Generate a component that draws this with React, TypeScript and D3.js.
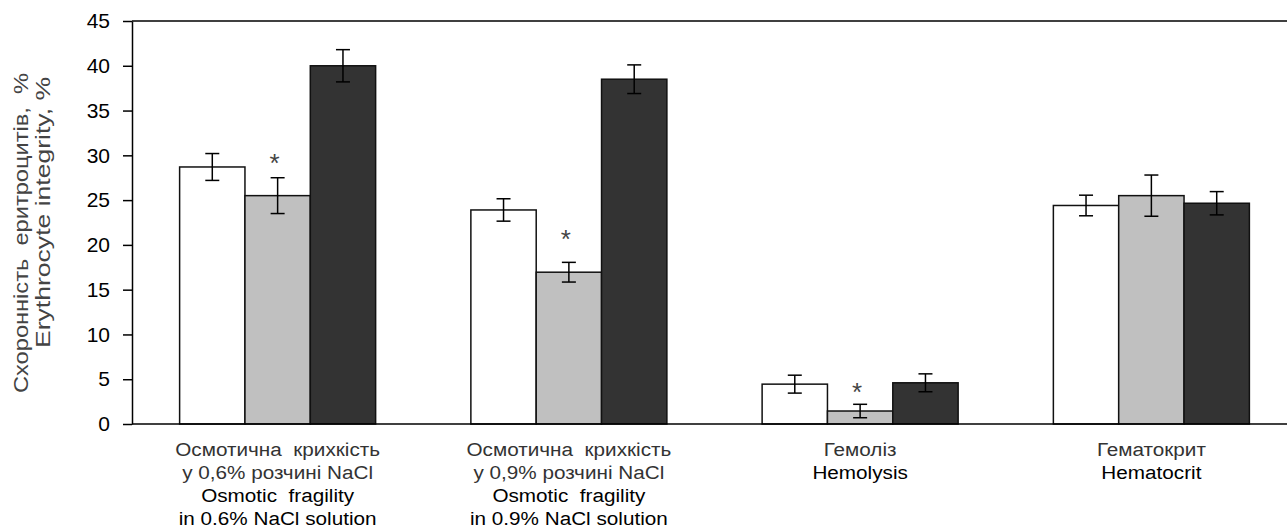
import React, { useEffect, useRef } from 'react';
import * as d3 from 'd3';

// categories (Ukrainian / English lines under each group)
const categories = ['osm06', 'osm09', 'hemolysis', 'hematocrit'];
const categoryLabels = [
    ['Осмотична  крихкість', 'у 0,6% розчині NaCl', 'Osmotic  fragility', 'in 0.6% NaCl solution'],
    ['Осмотична  крихкість', 'у 0,9% розчині NaCl', 'Osmotic  fragility', 'in 0.9% NaCl solution'],
    ['Гемоліз', 'Hemolysis'],
    ['Гематокрит', 'Hematocrit'],
];
const series = ['s1', 's2', 's3'];
const seriesFill = ['#ffffff', '#c0c0c0', '#333333'];

const values = [
    [28.7, 25.5, 40.0],
    [23.9, 16.95, 38.5],
    [4.45, 1.45, 4.6],
    [24.4, 25.5, 24.65],
];
const errors = [
    [1.5, 2.0, 1.8],
    [1.25, 1.1, 1.6],
    [1.0, 0.75, 1.0],
    [1.15, 2.3, 1.3],
];
// asterisk (significance) marks: [group, series, height in %]
const marks = [
    [0, 1, 29.9],
    [1, 1, 21.4],
    [2, 1, 4.4],
];
const yTicks = [0, 5, 10, 15, 20, 25, 30, 35, 40, 45];

export default function App() {
    const yAxisRef = useRef<SVGGElement>(null);

    const width = 1287, height = 530;
    const margin = {left: 132, top: 21, bottom: 424};
    const plotRight = 1297;
    const font = '"Liberation Sans", Arial, sans-serif';

    const x0 = d3.scaleBand()
        .domain(categories)
        .range([margin.left, plotRight])
        .paddingInner(0.327)
        .paddingOuter(0.1635);
    const x1 = d3.scaleBand()
        .domain(series)
        .range([0, x0.bandwidth()]);
    const y = d3.scaleLinear()
        .domain([0, 45])
        .range([margin.bottom, margin.top]);

    useEffect(() => {
        const axis = d3.axisLeft(y)
            .tickValues(yTicks)
            .tickSize(9)
            .tickSizeOuter(0)
            .tickPadding(13);
        const g = d3.select(yAxisRef.current);
        g.call(axis);
        g.select('.domain').attr('stroke', '#000').attr('stroke-width', 1.5);
        g.selectAll('.tick line').attr('stroke', '#000').attr('stroke-width', 1.5);
        g.selectAll('.tick text')
            .attr('font-size', 21)
            .attr('font-family', font)
            .attr('fill', '#000');
    }, []);

    return (
        <div style={{position: 'fixed', left: 0, top: 0}}>
            <svg width={width} height={height} style={{display: 'block', background: '#fff'}}>
                {/* top frame line */}
                <line x1={margin.left} x2={plotRight} y1={y(45)} y2={y(45)} stroke='#000' strokeWidth={1.5} />

                {categories.map((c, i) => (
                    <g key={c} transform={'translate(' + x0(c) + ',0)'}>
                        {series.map((s, j) => {
                            const v = values[i][j];
                            const e = errors[i][j];
                            const bx = x1(s) as number;
                            const cx = bx + x1.bandwidth() / 2;
                            return (
                                <g key={s}>
                                    <rect x={bx} y={y(v)} width={x1.bandwidth()} height={y(0) - y(v)}
                                        fill={seriesFill[j]} stroke='#111' strokeWidth={1.5} />
                                    <line x1={cx} x2={cx} y1={y(v + e)} y2={y(v - e)} stroke='#000' strokeWidth={1.5} />
                                    <line x1={cx - 7} x2={cx + 7} y1={y(v + e)} y2={y(v + e)} stroke='#000' strokeWidth={1.5} />
                                    <line x1={cx - 7} x2={cx + 7} y1={y(v - e)} y2={y(v - e)} stroke='#000' strokeWidth={1.5} />
                                </g>
                            );
                        })}
                    </g>
                ))}

                {marks.map(([gi, si, h], k) => (
                    <text key={k}
                        x={(x0(categories[gi]) as number) + (x1(series[si]) as number) + x1.bandwidth() / 2 - 3}
                        y={y(h) + 16}
                        textAnchor='middle' fontSize={26} fontFamily={font} fill='#444'>*</text>
                ))}

                {/* bottom axis line */}
                <line x1={margin.left} x2={plotRight} y1={y(0)} y2={y(0)} stroke='#000' strokeWidth={1.5} />

                <g ref={yAxisRef} transform={'translate(' + margin.left + ',0)'} />

                {/* category labels, a little wider than the plain font */}
                {categories.map((c, i) => (
                    <g key={c} transform={'translate(' + ((x0(c) as number) + x0.bandwidth() / 2) + ',0) scale(1.09,1)'}>
                        <text textAnchor='middle' fontSize={19} fontFamily={font} style={{whiteSpace: 'pre'}}>
                            {categoryLabels[i].map((line, k) => (
                                <tspan key={k} x={0} y={456 + k * 23}
                                    fill={k < categoryLabels[i].length / 2 ? '#333' : '#000'}>{line}</tspan>
                            ))}
                        </text>
                    </g>
                ))}

                {/* y axis title */}
                <text transform='rotate(-90)' textAnchor='end' fontSize={20} fontFamily={font} fill='#444'
                    style={{whiteSpace: 'pre'}}>
                    <tspan x={-73} y={28} textLength={320} lengthAdjust='spacingAndGlyphs'>Схоронність  еритроцитів,  %</tspan>
                    <tspan x={-77} y={50} textLength={271} lengthAdjust='spacingAndGlyphs'>Erythrocyte integrity, %</tspan>
                </text>
            </svg>
        </div>
    );
}
